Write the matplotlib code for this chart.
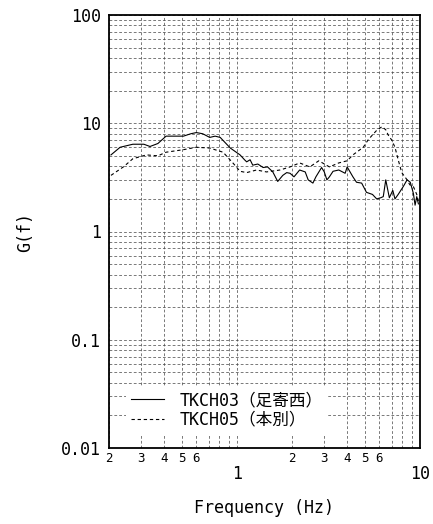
import matplotlib
matplotlib.use("Agg")
import matplotlib.pyplot as plt
from matplotlib.ticker import FixedLocator, NullFormatter

# ---- data ----
freq_ch03 = [0.205, 0.23, 0.27, 0.31, 0.335, 0.37, 0.41, 0.51, 0.56, 0.60, 0.65, 0.71, 0.76, 0.81,
             0.92, 1.04, 1.10, 1.13, 1.18, 1.22, 1.30, 1.39, 1.47, 1.57, 1.67, 1.78, 1.87, 1.95,
             2.05, 2.2, 2.36, 2.45, 2.6, 2.7, 2.9, 3.0, 3.1, 3.2, 3.35, 3.6, 3.9, 4.0, 4.3, 4.5,
             4.8, 5.1, 5.5, 5.8, 6.1, 6.3, 6.5, 6.8, 7.1, 7.3, 7.6, 8.1, 8.5, 8.85, 9.2, 9.4, 9.6, 9.8]
g_ch03 = [5.1, 6.0, 6.4, 6.4, 6.1, 6.5, 7.6, 7.6, 8.0, 8.2, 8.0, 7.4, 7.6, 7.4,
          5.9, 5.1, 4.6, 4.4, 4.6, 4.1, 4.2, 3.9, 3.95, 3.55, 2.9, 3.3, 3.5, 3.45,
          3.2, 3.7, 3.55, 3.0, 2.8, 3.2, 3.9, 3.55, 3.0, 3.2, 3.6, 3.7, 3.45, 3.95, 3.2, 2.85,
          2.8, 2.3, 2.2, 2.0, 2.05, 2.1, 3.0, 2.05, 2.4, 2.0, 2.2, 2.6, 3.0, 2.85, 2.25, 1.75, 2.1, 1.8]

freq_ch05 = [0.205, 0.24, 0.27, 0.32, 0.37, 0.41, 0.51, 0.60, 0.71, 0.84, 0.95, 1.04, 1.13, 1.28,
             1.45, 1.72, 1.95, 2.2, 2.5, 2.8, 3.2, 3.6, 4.0, 4.3, 4.9, 5.2, 5.5, 5.8, 6.2, 6.5,
             6.7, 7.0, 7.3, 7.6, 7.95, 8.5, 8.8, 9.2, 9.6, 9.8]
g_ch05 = [3.3, 3.96, 4.7, 5.1, 5.0, 5.4, 5.7, 6.0, 5.9, 5.4, 4.3, 3.6, 3.5, 3.7,
          3.55, 3.7, 3.95, 4.3, 3.95, 4.5, 3.95, 4.3, 4.5, 5.1, 6.0, 7.0, 7.8, 8.6, 9.3, 8.7,
          7.8, 7.0, 6.0, 4.6, 3.5, 3.0, 2.7, 2.6, 2.2, 1.9]

series_labels = ["TKCH03（足寄西）", "TKCH05（本別）"]

y_major = [0.01, 0.1, 1, 10, 100]
y_major_labels = ["0.01", "0.1", "1", "10", "100"]
x_major = [1, 10]
x_major_labels = ["1", "10"]
x_minor = [0.2, 0.3, 0.4, 0.5, 0.6, 0.7, 0.8, 0.9, 2, 3, 4, 5, 6, 7, 8, 9]
x_minor_labels = ["2", "3", "4", "5", "6", "", "", "", "2", "3", "4", "5", "6", "", "", ""]
y_minor = [m * 10.0 ** e for e in (-2, -1, 0, 1) for m in range(2, 10)]

mono = ["DejaVu Sans Mono", "Noto Sans CJK JP"]
plt.rcParams['font.family'] = mono

fig = plt.figure(figsize=(4.33, 5.24), dpi=100)
ax = fig.add_axes([109 / 433, 1 - 448 / 524, 311 / 433, 433 / 524])

ax.set_xscale("log")
ax.set_yscale("log")
ax.set_xlim(0.2, 10)
ax.set_ylim(0.01, 100)

ax.plot(freq_ch03, g_ch03, color="black", lw=0.8, label=series_labels[0])
ax.plot(freq_ch05, g_ch05, color="black", lw=0.8, linestyle=(0, (3, 2.5)), label=series_labels[1])

ax.xaxis.set_major_locator(FixedLocator(x_major))
ax.set_xticklabels(x_major_labels)
ax.xaxis.set_minor_locator(FixedLocator(x_minor))
ax.set_xticks(x_minor, x_minor_labels, minor=True)
ax.yaxis.set_major_locator(FixedLocator(y_major))
ax.set_yticklabels(y_major_labels)
ax.yaxis.set_minor_locator(FixedLocator(y_minor))
ax.yaxis.set_minor_formatter(NullFormatter())

ax.tick_params(axis="both", which="both", length=0)
ax.tick_params(axis="x", which="major", labelsize=12, pad=12.5)
ax.tick_params(axis="x", which="minor", labelsize=9, pad=3)
ax.tick_params(axis="y", which="major", labelsize=12, pad=6)

ax.grid(True, which="both", color="#444444", lw=0.5, linestyle=(0, (4, 3)))
ax.set_axisbelow(True)

for s in ax.spines.values():
    s.set_linewidth(1.3)

ax.set_xlabel("Frequency (Hz)", fontsize=12, labelpad=11)
ax.set_ylabel("G(f)", fontsize=12, labelpad=19)

leg = ax.legend(loc="lower left", bbox_to_anchor=(0.055, 0.033), fontsize=12,
                frameon=True, fancybox=False, framealpha=1, facecolor="white",
                edgecolor="none", handlelength=2.0, handletextpad=0.9,
                labelspacing=0.1, borderpad=0.3, borderaxespad=0)

fig.savefig("out.png", dpi=100)
